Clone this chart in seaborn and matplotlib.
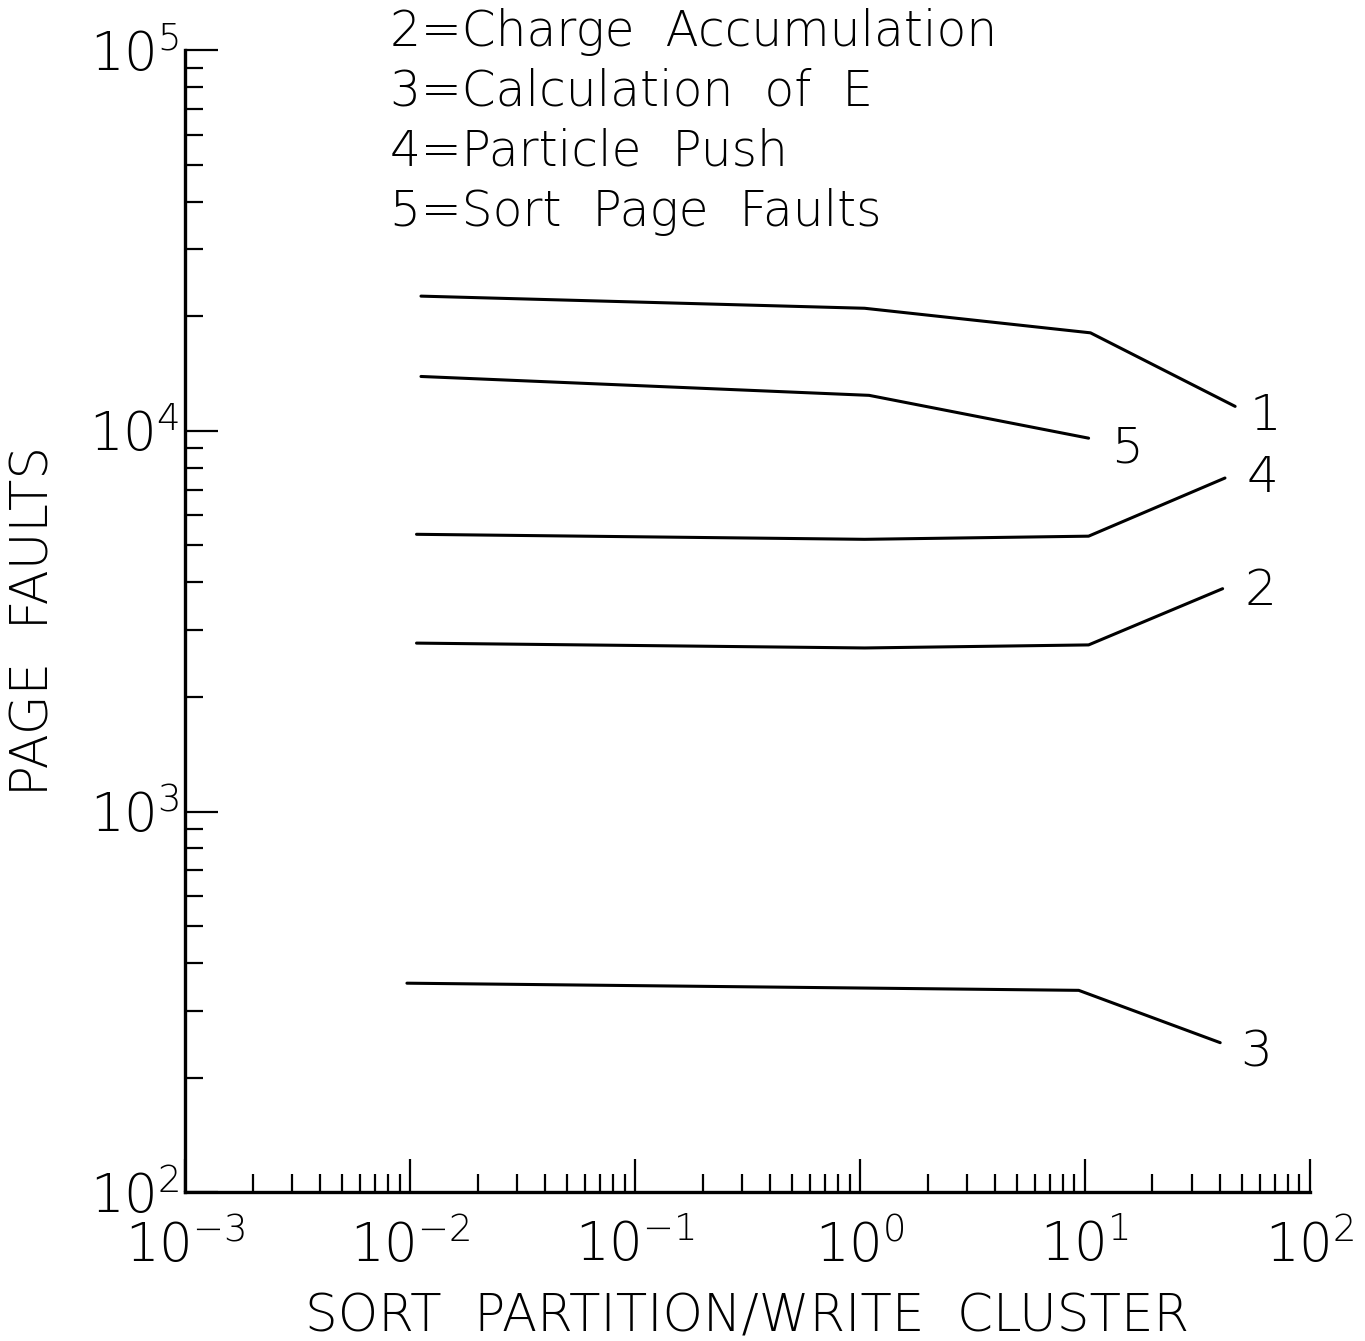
import numpy as np
import pandas as pd
import matplotlib
matplotlib.use('Agg')
import matplotlib.pyplot as plt
import seaborn as sns
from matplotlib.ticker import LogLocator, FuncFormatter, NullFormatter

# values (x = sort partition / write cluster, y = page faults)
x_1 = [0.0112, 1.05, 10.6, 46.6]
y_1 = [22600, 21000, 18100, 11600]
x_5 = [0.0112, 1.1, 10.4]
y_5 = [13900, 12400, 9570]
x_4 = [0.0107, 1.05, 10.4, 42.0]
y_4 = [5350, 5190, 5290, 7520]
x_2 = [0.0107, 1.05, 10.4, 41.0]
y_2 = [2770, 2690, 2740, 3850]
x_3 = [0.0097, 9.4, 40.0]
y_3 = [354, 339, 247]

series = {'1': (x_1, y_1), '5': (x_5, y_5), '4': (x_4, y_4),
          '2': (x_2, y_2), '3': (x_3, y_3)}
legend_lines = ['2=Charge  Accumulation', '3=Calculation  of  E',
                '4=Particle  Push', '5=Sort  Page  Faults']

rows = []
for name, (xs, ys) in series.items():
    for i, (xv, yv) in enumerate(zip(xs, ys)):
        rows.append({'series': name, 'order': i, 'x': xv, 'y': yv})
df = pd.DataFrame(rows)

sns.set_style('ticks')
plt.rcParams['font.family'] = ['DejaVu Sans']
plt.rcParams['mathtext.default'] = 'regular'
plt.rcParams['text.color'] = 'black'
plt.rcParams['axes.labelcolor'] = 'black'
plt.rcParams['xtick.color'] = 'black'
plt.rcParams['ytick.color'] = 'black'

fig = plt.figure(figsize=(13.65, 13.41), dpi=100)
ax = fig.add_axes([0.1355, 0.111, 0.824, 0.8515])

sns.lineplot(data=df, x='x', y='y', hue='series',
             palette=['black'] * 5, legend=False, estimator=None, sort=False,
             linewidth=2.2, ax=ax)

ax.set_xscale('log')
ax.set_yscale('log')
ax.set_xlim(1e-3, 1e2)
ax.set_ylim(1e2, 1e5)

for sp in ['top', 'right']:
    ax.spines[sp].set_visible(False)
for sp in ['left', 'bottom']:
    ax.spines[sp].set_linewidth(2.4)
    ax.spines[sp].set_color('black')

fmt = FuncFormatter(lambda v, p: r'$10^{%d}$' % int(round(np.log10(v))))
ax.xaxis.set_major_locator(LogLocator(base=10, numticks=10))
ax.yaxis.set_major_locator(LogLocator(base=10, numticks=10))
ax.xaxis.set_minor_locator(LogLocator(base=10, subs=np.arange(2, 10), numticks=20))
ax.yaxis.set_minor_locator(LogLocator(base=10, subs=np.arange(2, 10), numticks=20))
ax.xaxis.set_major_formatter(fmt)
ax.yaxis.set_major_formatter(fmt)
ax.xaxis.set_minor_formatter(NullFormatter())
ax.yaxis.set_minor_formatter(NullFormatter())

ax.tick_params(axis='both', which='major', direction='in', length=24, width=1.6,
               labelsize=38, color='black', labelcolor='black')
ax.tick_params(axis='both', which='minor', direction='in', length=13, width=1.6,
               color='black')
ax.tick_params(axis='x', which='major', pad=20)
ax.tick_params(axis='y', which='major', pad=4)
for lab in ax.get_xticklabels() + ax.get_yticklabels():
    lab.set_fontweight('light')

ax.set_xlabel('SORT  PARTITION/WRITE  CLUSTER', fontsize=37, fontweight='light',
              labelpad=14)
ax.set_ylabel('PAGE  FAULTS', fontsize=37, fontweight='light', labelpad=22)

# curve numbers at the right end of each line
offsets = {'1': (14, -10), '5': (22, -10), '4': (22, 0), '2': (22, -2), '3': (20, -10)}
for name, (xs, ys) in series.items():
    ax.annotate(name, xy=(xs[-1], ys[-1]), xytext=offsets[name],
                textcoords='offset pixels', ha='left', va='center',
                fontsize=36, fontweight='light', color='black')

for i, txt in enumerate(legend_lines):
    fig.text(390 / 1365, 1 - (32 + 60 * i) / 1341, txt, fontsize=35,
             fontweight='light', ha='left', va='center', color='black')

fig.savefig('out.png', dpi=100)
